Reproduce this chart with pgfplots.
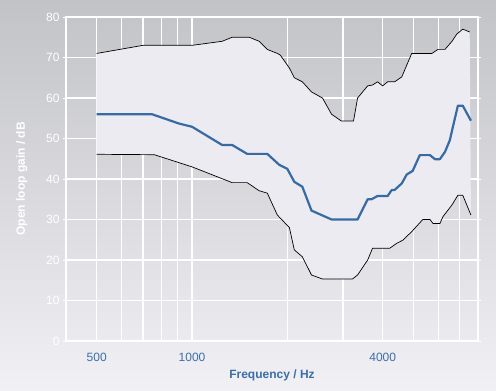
\documentclass[border=0pt]{standalone}
\usepackage{fontspec}
\setmainfont{Liberation Sans}
\usepackage{pgfplots}
\pgfplotsset{compat=1.18}
\usepgfplotslibrary{fillbetween}
\definecolor{bgtop}{RGB}{194,195,199}
\definecolor{bgbot}{RGB}{241,240,244}
\definecolor{band}{RGB}{236,235,241}
\definecolor{curveblue}{RGB}{55,107,163}
\definecolor{labelblue}{RGB}{60,110,165}
\begin{document}
\begin{tikzpicture}
\begin{axis}[
  set layers,
  scale only axis, width=412pt, height=324pt,
  xmode=log, xmin=400, xmax=8000, ymin=0, ymax=80,
  clip=false,
  xtick={500,600,700,800,900,1000,2000,3000,4000,5000,6000,7000},
  xticklabels={500,,,,,1000,,,4000,,,},
  ytick={0,10,20,30,40,50,60,70,80},
  grid=major, major grid style={white, line width=1.3pt},
  axis line style={white, line width=1.3pt},
  xtick style={draw=none}, ytick style={white, line width=0.8pt},
  tick align=outside, major tick length=3pt,
  /pgf/number format/assume math mode=true,
  ticklabel style={font=\fontsize{12}{14}\selectfont},
  xticklabel style={text=labelblue, yshift=-6pt},
  yticklabel style={text=white},
  xlabel={Frequency / Hz}, ylabel={Open loop gain / dB},
  xlabel style={at={(axis description cs:0.5,-0.105)}, anchor=center, text=labelblue, font=\bfseries\fontsize{12}{14}\selectfont},
  ylabel style={at={(axis description cs:-0.107,0.5)}, anchor=center, text=white, font=\bfseries\fontsize{12}{14}\selectfont},
]
\begin{pgfonlayer}{axis background}
\shade[top color=bgtop, bottom color=bgbot] (rel axis cs:-0.16019,-0.15123) rectangle (rel axis cs:1.04369,1.05247);
\end{pgfonlayer}

\addplot[name path=upper, black, line width=0.7pt] coordinates {
(500,71) (700,73) (1000,73) (1245,74) (1339,75) (1516,75) (1630,74) (1729,72)
(1860,71) (1900,70.6) (2030,67.4) (2104,65) (2230,64) (2384,61.5) (2582,60)
(2758,56) (2964,54.3) (3236,54.3) (3333,60) (3587,63) (3716,63.2) (3853,64)
(4000,63) (4147,64) (4363,64) (4595,65.2) (4940,71) (5720,71) (5981,72)
(6293,72) (6621,74) (6862,75.8) (7160,77) (7533,76.3)
};
\addplot[name path=lower, black, line width=0.7pt] coordinates {
(500,46.1) (760,46) (1000,43) (1339,39.1) (1493,39.1) (1630,37.1) (1729,36.5)
(1860,31.1) (2030,28) (2104,22.5) (2230,20.8) (2384,16.3) (2582,15.3)
(3210,15.3) (3333,16.3) (3587,20) (3716,22.9) (4210,22.9) (4429,24.1)
(4632,24.9) (4940,27) (5355,30) (5640,30) (5771,29) (6064,29) (6200,30.7)
(6621,33.6) (6912,36) (7160,36) (7600,31.1)
};
\addplot[fill=band, draw=none, on layer=axis background] fill between[of=upper and lower];

\addplot[curveblue, line width=2.2pt, line join=round] coordinates {
(500,56) (747,56) (909,53.7) (1000,52.9) (1245,48.4) (1339,48.4) (1493,46.2)
(1729,46.2) (1886,43.5) (2000,42.5) (2104,39.3) (2230,38.1) (2384,32.2)
(2758,30) (3333,30) (3587,35) (3690,35) (3853,35.8) (4147,35.8) (4275,37.3)
(4363,37.3) (4595,38.9) (4764,41.1) (4975,42) (5240,45.9) (5640,45.9)
(5850,44.9) (6064,44.9) (6293,46.7) (6520,49.6) (6666,52.9) (6912,58.1)
(7160,58.1) (7600,54.4)
};
\end{axis}
\end{tikzpicture}
\end{document}
